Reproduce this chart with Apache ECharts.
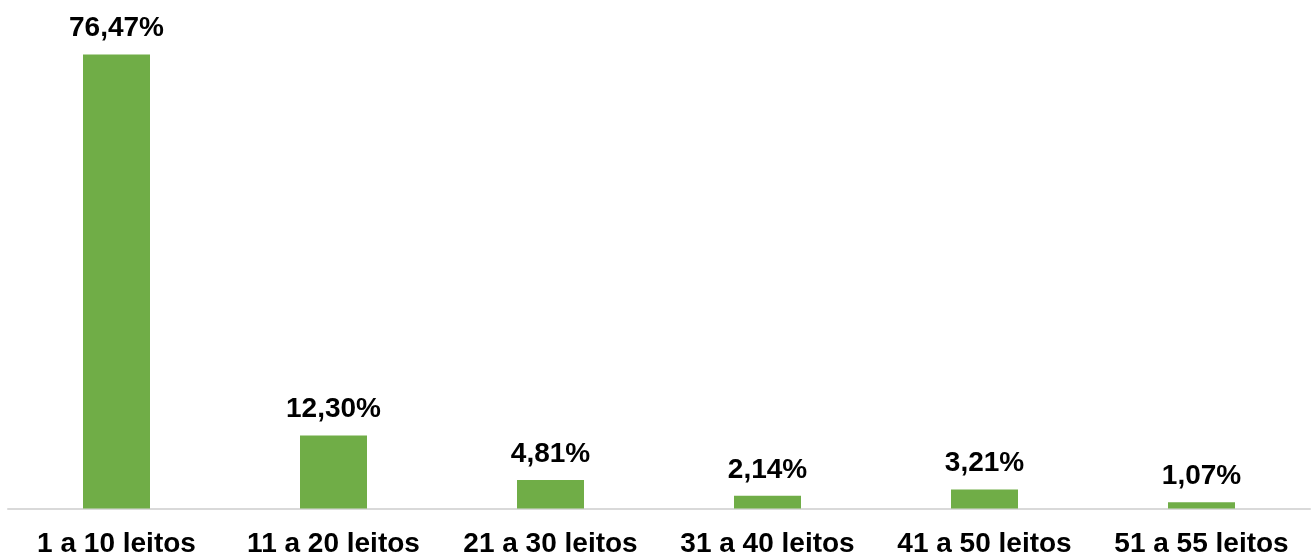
<!DOCTYPE html>
<html>
<head>
<meta charset="utf-8">
<script src="https://cdn.jsdelivr.net/npm/echarts@6/dist/echarts.min.js"></script>
<style>html,body{margin:0;padding:0;background:#fff;}#c{width:1311px;height:559px;}</style>
</head>
<body>
<div id="c"></div>
<script>
const categories = ['1 a 10 leitos', '11 a 20 leitos', '21 a 30 leitos', '31 a 40 leitos', '41 a 50 leitos', '51 a 55 leitos'];
const values = [76.47, 12.30, 4.81, 2.14, 3.21, 1.07];

const chart = echarts.init(document.getElementById('c'), null, {renderer: 'canvas'});
chart.setOption({
  animation: false,
  grid: {left: 8, right: 1, top: 33.5, bottom: 50.5, containLabel: false},
  xAxis: {
    type: 'category',
    data: categories,
    axisLine: {show: true, lineStyle: {color: '#d9d9d9', width: 2}},
    axisTick: {show: false},
    axisLabel: {
      color: '#000', fontFamily: 'Liberation Sans, Arial, sans-serif',
      fontWeight: 'bold', fontSize: 28, margin: 22, interval: 0
    }
  },
  yAxis: {
    type: 'value', min: 0, max: 80,
    show: false, splitLine: {show: false}
  },
  series: [{
    type: 'bar',
    data: values,
    barWidth: 67,
    itemStyle: {color: '#70ad47'},
    label: {
      show: true, position: 'top', distance: 12,
      color: '#000', fontFamily: 'Liberation Sans, Arial, sans-serif',
      fontWeight: 'bold', fontSize: 28,
      formatter: p => p.value.toFixed(2).replace('.', ',') + '%'
    }
  }]
});
</script>
</body>
</html>
